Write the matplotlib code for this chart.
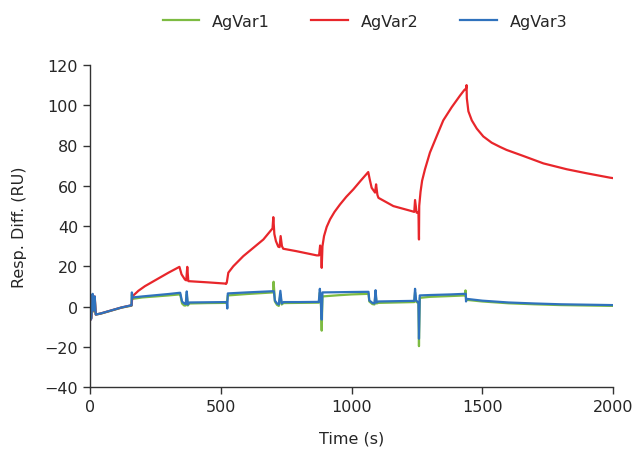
import matplotlib
matplotlib.use("Agg")
import matplotlib.pyplot as plt

# Sensorgram samples: time (s) and response difference (RU) per antigen variant
agvar1_t = [0, 5, 10, 14, 18, 22, 40, 80, 120, 155,
            159, 160, 163, 200, 250, 300, 342,
            345, 352, 360, 366, 370, 374, 380, 450, 520,
            523, 527, 600, 700, 702, 705, 707, 715, 722, 728, 733, 740, 800, 875,
            879, 883, 886, 889, 950, 1000, 1065,
            1068, 1080, 1088, 1092, 1096, 1103, 1240,
            1243, 1247, 1256, 1258, 1261, 1300, 1380, 1434,
            1436, 1438, 1440, 1500, 1600, 1700, 1800, 1900, 2000]
agvar1_v = [-6.5, -5.5, 5.0, -2.5, 4.0, -4.0, -3.6, -2.1, -0.6, 0.3,
            0.4, 6.0, 3.8, 4.5, 5.0, 5.5, 6.0,
            6.0, 1.5, 0.5, 0.5, 6.0, 0.5, 1.5, 1.7, 1.8,
            1.8, 5.5, 6.2, 7.0, 12.3, 7.0, 2.5, 0.8, 0.3, 6.0, 1.0, 1.7, 1.8, 1.9,
            7.0, 1.5, -12.0, 5.0, 5.6, 6.0, 6.3,
            2.5, 1.2, 1.0, 6.5, 1.5, 1.8, 2.2,
            7.0, 2.5, 1.5, -19.7, 4.3, 4.8, 5.2, 5.5,
            8.0, 3.5, 3.3, 2.5, 1.6, 1.1, 0.7, 0.5, 0.3]

agvar2_t = [0, 5, 10, 14, 18, 22, 40, 80, 120, 155, 159, 162,
            185, 210, 261, 300, 342,
            350, 363, 368, 372, 376, 400, 450, 516,
            520, 523, 529, 548, 586, 625, 663, 698,
            701, 705, 711, 720, 725, 729, 734, 739, 789, 867, 876,
            880, 884, 886, 889, 895, 905, 918, 935, 956, 980, 1007, 1035, 1064,
            1070, 1077, 1090, 1094, 1099, 1103, 1160, 1230, 1240, 1243, 1249, 1256,
            1258, 1259, 1264, 1270, 1281, 1300, 1326, 1351, 1383, 1415, 1431, 1438, 1440,
            1441, 1447, 1460, 1479, 1504, 1536, 1568, 1593, 1657, 1734, 1823, 1899, 1989, 2000]
agvar2_v = [-7.0, -6.0, 6.0, -2.0, 5.0, -4.0, -3.5, -2.0, -0.5, 0.5, 0.6, 5.0,
            7.8, 10.1, 13.9, 16.8, 19.7,
            16.0, 13.4, 13.0, 19.7, 12.6, 12.4, 12.0, 11.4,
            11.2, 11.8, 16.8, 20.0, 25.0, 29.2, 33.3, 38.8,
            44.4, 36.0, 32.5, 29.7, 29.5, 35.0, 30.0, 28.7, 27.5, 25.4, 25.4,
            30.3, 27.0, 19.2, 30.0, 35.0, 39.5, 43.3, 47.0, 50.7, 54.5, 58.2, 62.5, 66.8,
            63.0, 59.0, 56.6, 60.7, 55.5, 54.0, 49.9, 47.4, 47.0, 52.9, 46.6, 47.0,
            33.3, 50.0, 57.0, 62.5, 68.2, 76.5, 84.7, 92.5, 99.0, 104.8, 107.5, 108.3, 110.0,
            103.5, 97.0, 92.5, 88.4, 84.5, 81.4, 79.3, 77.8, 74.8, 71.1, 68.2, 66.2, 64.0, 63.8]

agvar3_t = [0, 5, 10, 14, 18, 22, 40, 80, 120, 155,
            159, 160, 163, 200, 250, 300, 342,
            345, 352, 360, 366, 370, 374, 380, 450, 520,
            523, 525, 527, 600, 700,
            703, 707, 715, 722, 728, 733, 740, 800, 875,
            879, 883, 886, 889, 950, 1000, 1065,
            1068, 1080, 1088, 1092, 1096, 1103, 1240,
            1243, 1247, 1256, 1258, 1261, 1300, 1380, 1434,
            1437, 1438, 1440, 1500, 1600, 1700, 1800, 1900, 2000]
agvar3_v = [-7.0, -6.0, 6.3, -2.0, 5.0, -4.0, -3.5, -2.0, -0.5, 0.5,
            0.6, 7.0, 4.5, 5.0, 5.6, 6.2, 6.8,
            6.8, 2.5, 1.5, 1.2, 7.5, 1.0, 2.0, 2.1, 2.2,
            2.2, -1.0, 6.5, 7.0, 7.6,
            7.6, 3.0, 1.5, 1.0, 7.8, 1.5, 2.2, 2.2, 2.3,
            8.8, 2.0, -6.5, 7.0, 7.1, 7.2, 7.3,
            3.0, 1.8, 1.5, 8.1, 2.0, 2.5, 2.8,
            8.8, 3.0, 2.0, -16.0, 5.5, 5.7, 6.0, 6.3,
            6.3, 2.5, 3.8, 2.9, 2.0, 1.5, 1.1, 0.9, 0.7]

series_names = ["AgVar1", "AgVar2", "AgVar3"]
series_colors = ["#7dbb42", "#e8262b", "#2f72bd"]
x_ticks = [0, 500, 1000, 1500, 2000]
y_ticks = [-40, -20, 0, 20, 40, 60, 80, 100, 120]

plt.rcParams["font.family"] = ["DejaVu Sans"]
text_color = "#262626"

fig = plt.figure(figsize=(6.33, 4.52), dpi=100)
ax = fig.add_axes([90 / 633, 1 - 388 / 452, 523 / 633, 322 / 452])

data = [(agvar1_t, agvar1_v), (agvar2_t, agvar2_v), (agvar3_t, agvar3_v)]
for (t, v), name, color in zip(data, series_names, series_colors):
    ax.plot(t, v, color=color, lw=1.6, label=name)

ax.set_xlim(0, 2000)
ax.set_ylim(-40, 120)
ax.set_xticks(x_ticks)
ax.set_yticks(y_ticks)
ax.tick_params(direction="out", length=5, width=1, colors="#333333",
               labelsize=11.5, labelcolor=text_color)
for side in ("top", "right"):
    ax.spines[side].set_visible(False)
for side in ("left", "bottom"):
    ax.spines[side].set_color("#333333")
    ax.spines[side].set_linewidth(1)

ax.set_xlabel("Time (s)", fontsize=11.5, color=text_color, labelpad=12)
ax.set_ylabel("Resp. Diff. (RU)", fontsize=11.5, color=text_color, labelpad=13)

fig.legend(loc="center", bbox_to_anchor=(365 / 633, 1 - 22 / 452), ncol=3,
           frameon=False, fontsize=11.5, handlelength=2.3, handletextpad=0.8,
           columnspacing=2.6, labelcolor=text_color)

fig.savefig("out.png", dpi=100)
